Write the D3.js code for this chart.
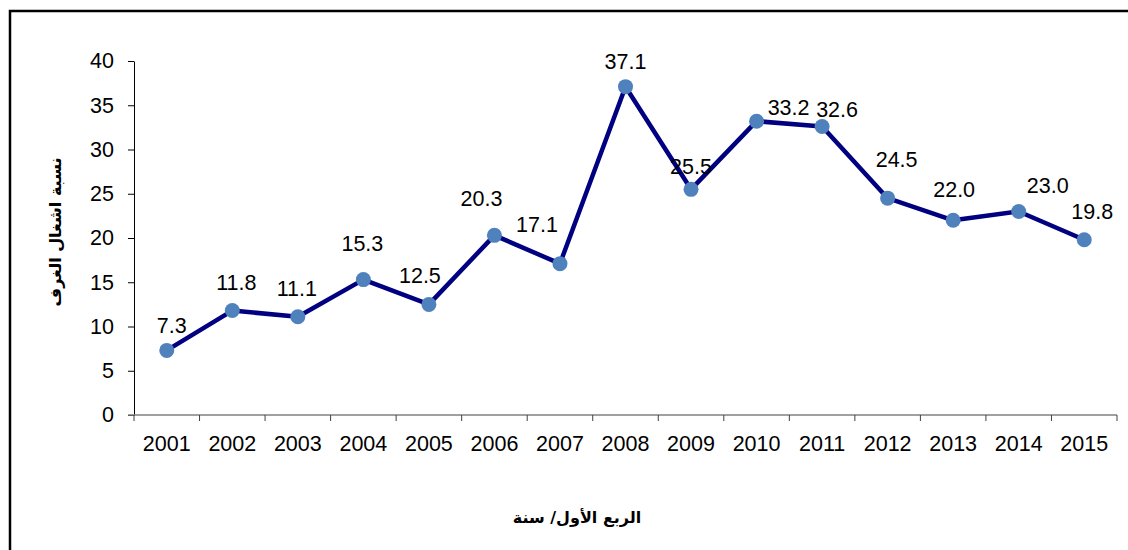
<!DOCTYPE html>
<html>
<head>
<meta charset="utf-8">
<script src="https://cdn.jsdelivr.net/npm/d3@7"></script>
<style>
  html, body { margin: 0; padding: 0; background: #fff; }
  svg { display: block; }
</style>
</head>
<body>
<svg id="chart" width="1128" height="550"></svg>
<script>
// Room occupancy rate, first quarter of each year
const years = ["2001","2002","2003","2004","2005","2006","2007","2008","2009","2010","2011","2012","2013","2014","2015"];
const occupancy = [7.3, 11.8, 11.1, 15.3, 12.5, 20.3, 17.1, 37.1, 25.5, 33.2, 32.6, 24.5, 22.0, 23.0, 19.8];
const yTicks = [0, 5, 10, 15, 20, 25, 30, 35, 40];
const yTitle = "نسبة اشغال الغرف";
const xTitle = "الربع الأول/ سنة";

// hand-placed label nudges (dx, dy in px relative to the marker)
const labelNudge = [
  [5, -25], [4, -28], [-1, -28], [-1, -36], [-9, -29], [-13, -37], [-23, -39],
  [0, -25], [0, -23], [32, -14], [15, -17], [9, -39], [1, -31], [29, -26], [8, -28]
];

const svg = d3.select("#chart");
const W = 1128, H = 550;
const plot = { left: 134, right: 1117, top: 61, bottom: 415 };

// outer frame
svg.append("path")
  .attr("d", `M10,${H + 5} L10,11 L${W + 5},11`)
  .attr("fill", "none").attr("stroke", "#000").attr("stroke-width", 2.5);

const x = d3.scaleBand().domain(years).range([plot.left, plot.right]).padding(0);
const y = d3.scaleLinear().domain([0, 40]).range([plot.bottom, plot.top]);

const numFont = "'Liberation Sans', Arial, sans-serif";
const arFont = "'DejaVu Sans', sans-serif";
const numSize = 21.5;

// y axis
const yAxis = svg.append("g")
  .attr("transform", `translate(${plot.left},0)`)
  .call(d3.axisLeft(y).tickValues(yTicks).tickSize(6).tickPadding(14).tickSizeOuter(0));
yAxis.select(".domain").attr("stroke", "#000").attr("stroke-width", 1);
yAxis.selectAll(".tick line").attr("stroke", "#000");
yAxis.selectAll(".tick text")
  .attr("font-family", numFont).attr("font-size", numSize).attr("fill", "#000");

// x axis
const xAxis = svg.append("g")
  .attr("transform", `translate(0,${plot.bottom})`)
  .call(d3.axisBottom(x).tickSize(0).tickPadding(21));
xAxis.select(".domain").remove();
xAxis.selectAll(".tick text")
  .attr("font-family", numFont).attr("font-size", numSize).attr("fill", "#000");

// category boundary ticks and axis line
const bounds = years.map(d => x(d)).concat([x(years[years.length - 1]) + x.bandwidth()]);
svg.append("line")
  .attr("x1", plot.left - 6).attr("x2", plot.right)
  .attr("y1", plot.bottom).attr("y2", plot.bottom)
  .attr("stroke", "#808080").attr("stroke-width", 1.5);
svg.append("g").selectAll("line").data(bounds).join("line")
  .attr("x1", d => d).attr("x2", d => d)
  .attr("y1", plot.bottom).attr("y2", plot.bottom + 6)
  .attr("stroke", "#404040").attr("stroke-width", 1);

const cx = (d, i) => x(years[i]) + x.bandwidth() / 2;

// series line
const line = d3.line().x((d, i) => cx(d, i)).y(d => y(d));
svg.append("path")
  .datum(occupancy)
  .attr("d", line)
  .attr("fill", "none")
  .attr("stroke", "#000080")
  .attr("stroke-width", 4.5)
  .attr("stroke-linejoin", "round");

// markers
svg.append("g").selectAll("circle").data(occupancy).join("circle")
  .attr("cx", cx).attr("cy", d => y(d)).attr("r", 7.5)
  .attr("fill", "#4F81BD");

// value labels
svg.append("g").selectAll("text").data(occupancy).join("text")
  .attr("x", (d, i) => cx(d, i) + labelNudge[i][0])
  .attr("y", (d, i) => y(d) + labelNudge[i][1])
  .attr("dy", "0.35em")
  .attr("text-anchor", "middle")
  .attr("font-family", numFont).attr("font-size", numSize).attr("fill", "#000")
  .text(d => d.toFixed(1));

// axis titles
svg.append("text")
  .attr("transform", `translate(55,${232}) rotate(-90)`)
  .attr("text-anchor", "middle").attr("dy", "0.35em")
  .attr("font-family", arFont).attr("font-weight", "bold").attr("font-size", 16)
  .attr("direction", "rtl")
  .text(yTitle);

svg.append("text")
  .attr("x", 577).attr("y", 517)
  .attr("text-anchor", "middle").attr("dy", "0.35em")
  .attr("font-family", arFont).attr("font-weight", "bold").attr("font-size", 16)
  .attr("direction", "rtl")
  .text(xTitle);
</script>
</body>
</html>
